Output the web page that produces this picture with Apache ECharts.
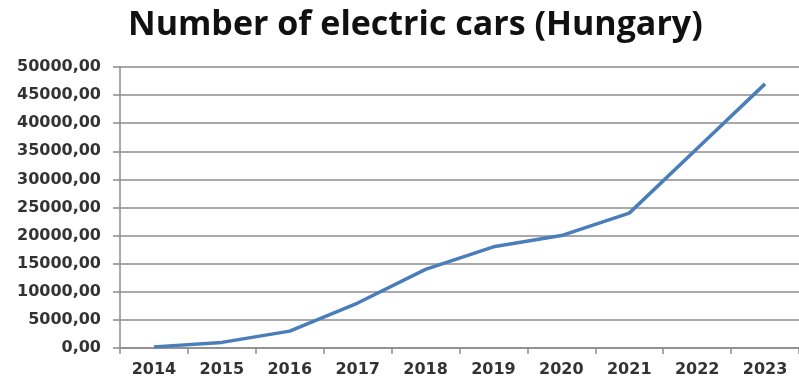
<!DOCTYPE html>
<html>
<head>
<meta charset="utf-8">
<script src="https://cdn.jsdelivr.net/npm/echarts@6/dist/echarts.min.js"></script>
<style>
  html, body { margin: 0; padding: 0; background: #ffffff; }
  #chart { width: 799px; height: 385px; }
</style>
</head>
<body>
<div id="chart"></div>
<script>
// Registered electric cars in Hungary by year
const years = ['2014', '2015', '2016', '2017', '2018', '2019', '2020', '2021', '2022', '2023'];
const electricCars = [200, 1000, 3000, 8000, 14000, 18000, 20000, 24000, 35500, 47000];

const axisFont = 'DejaVu Sans';
const gridGray = '#8c8c8c';

const chart = echarts.init(document.getElementById('chart'), null, { renderer: 'canvas' });

chart.setOption({
  animation: false,
  backgroundColor: '#ffffff',
  title: {
    text: 'Number of electric cars (Hungary)',
    left: 123,
    top: 3,
    textStyle: {
      fontFamily: 'Open Sans',
      fontWeight: 'bold',
      fontSize: 34,
      color: '#111111'
    }
  },
  grid: {
    left: 120,
    top: 67,
    width: 686,
    bottom: 37,
    containLabel: false
  },
  xAxis: {
    type: 'category',
    data: years,
    boundaryGap: true,
    axisLine: { show: true, lineStyle: { color: gridGray, width: 1.5 } },
    axisTick: { show: true, length: 6, lineStyle: { color: gridGray, width: 1.5 } },
    axisLabel: {
      margin: 14,
      fontFamily: axisFont,
      fontWeight: 'bold',
      fontSize: 16,
      color: '#333333'
    }
  },
  yAxis: {
    type: 'value',
    min: 0,
    max: 50000,
    interval: 5000,
    axisLine: { show: true, lineStyle: { color: gridGray, width: 1.5 } },
    axisTick: { show: true, length: 7, lineStyle: { color: gridGray, width: 1.5 } },
    splitLine: { show: true, lineStyle: { color: gridGray, width: 1.5 } },
    axisLabel: {
      margin: 19,
      fontFamily: axisFont,
      fontWeight: 'bold',
      fontSize: 16,
      color: '#333333',
      formatter: function (v) { return v.toFixed(2).replace('.', ','); }
    }
  },
  series: [{
    type: 'line',
    data: electricCars,
    symbol: 'none',
    lineStyle: { color: '#4a7ebb', width: 3.5 },
    emphasis: { disabled: true }
  }]
});
</script>
</body>
</html>
